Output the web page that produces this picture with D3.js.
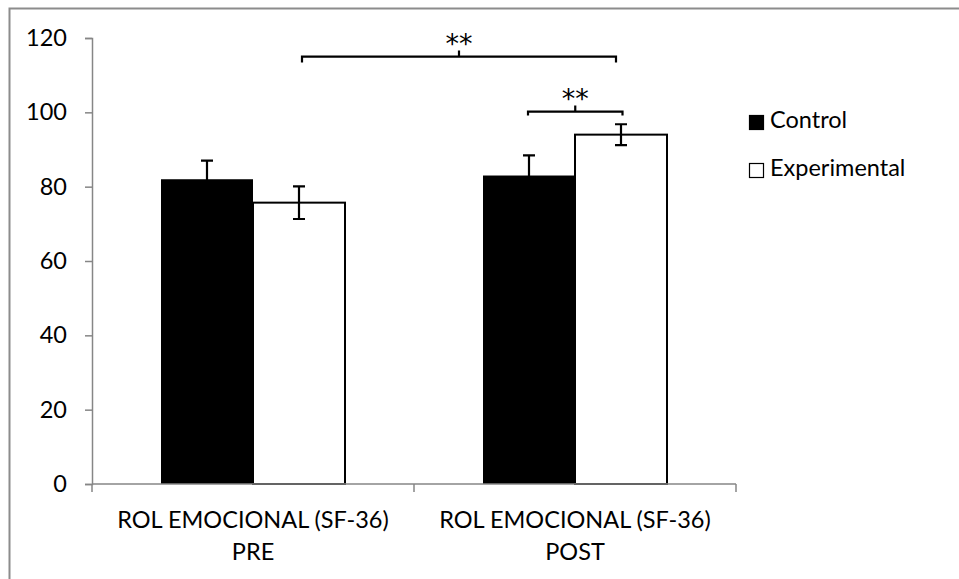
<!DOCTYPE html>
<html>
<head>
<meta charset="utf-8">
<script src="https://cdn.jsdelivr.net/npm/d3@7/dist/d3.min.js"></script>
<style>
  html, body { margin: 0; padding: 0; background: #fff; }
  svg { display: block; font-family: Lato, "Open Sans", sans-serif; }
</style>
</head>
<body>
<svg id="chart" width="959" height="579"></svg>
<script>
// Rol emocional (SF-36): pre/post means with error bars
const categories = [["ROL EMOCIONAL (SF-36)", "PRE"], ["ROL EMOCIONAL (SF-36)", "POST"]];
const groups = ["Control", "Experimental"];
const controlValues = [82, 83];
const experimentalValues = [75.7, 94];
const controlErrors = [5, 5.4];
const experimentalErrors = [4.4, 2.8];
const yTicks = [0, 20, 40, 60, 80, 100, 120];
const significance = [
  { label: "**", from: [0, 1], to: [1, 1], level: 115 },
  { label: "**", from: [1, 0], to: [1, 1], level: 100.2 }
];

const svg = d3.select("#chart");
const margin = { left: 92, right: 223, top: 38, bottom: 95 };
const W = 959, H = 579;
const fontSize = 23.5;

// outer frame (top and left edges visible)
svg.append("path")
  .attr("d", `M9.5,${H} L9.5,8.5 L${W},8.5`)
  .attr("fill", "none").attr("stroke", "#8c8c8c").attr("stroke-width", 2);

const x0 = d3.scaleBand().domain(d3.range(categories.length))
  .range([margin.left, W - margin.right]);
const x1 = d3.scaleBand().domain(groups).range([0, x0.bandwidth()])
  .paddingInner(0).paddingOuter(0.75);
const y = d3.scaleLinear().domain([0, 120]).range([H - margin.bottom, margin.top]);

const tickColor = "#868686";

// y axis
const yAxis = svg.append("g").attr("transform", `translate(${margin.left},0)`)
  .call(d3.axisLeft(y).tickValues(yTicks).tickSize(7).tickPadding(18));
yAxis.select(".domain").attr("stroke", tickColor).attr("stroke-width", 1.5);
yAxis.selectAll(".tick line").attr("stroke", tickColor).attr("stroke-width", 1.5);
yAxis.selectAll(".tick text").attr("font-size", fontSize).attr("fill", "#000")
  .attr("font-family", "Lato, sans-serif");

// bars
const data = categories.map((c, i) => ({
  i,
  values: [
    { g: "Control", v: controlValues[i], e: controlErrors[i] },
    { g: "Experimental", v: experimentalValues[i], e: experimentalErrors[i] }
  ]
}));

const gCat = svg.selectAll(".cat").data(data).join("g")
  .attr("transform", d => `translate(${x0(d.i)},0)`);

gCat.selectAll("rect").data(d => d.values).join("rect")
  .attr("x", d => x1(d.g))
  .attr("y", d => y(d.v))
  .attr("width", x1.bandwidth())
  .attr("height", d => y(0) - y(d.v))
  .attr("fill", d => d.g === "Control" ? "#000" : "#fff")
  .attr("stroke", "#000")
  .attr("stroke-width", d => d.g === "Control" ? 0 : 2);

// error bars
gCat.selectAll(".err").data(d => d.values).join("path")
  .attr("class", "err")
  .attr("d", d => {
    const cx = x1(d.g) + x1.bandwidth() / 2, cw = 6;
    const t = y(d.v + d.e), b = y(d.v - d.e);
    return `M${cx},${t} L${cx},${b} M${cx - cw},${t} L${cx + cw},${t} M${cx - cw},${b} L${cx + cw},${b}`;
  })
  .attr("fill", "none")
  .attr("stroke", "#000")
  .attr("stroke-width", 2.2);

// x axis
const xAxisY = y(0);
svg.append("line").attr("x1", margin.left).attr("x2", W - margin.right)
  .attr("y1", xAxisY).attr("y2", xAxisY)
  .attr("stroke", tickColor).attr("stroke-width", 1.5);
const xTickPos = [margin.left, ...categories.map((c, i) => x0(i) + x0.bandwidth())];
svg.selectAll(".xt").data(xTickPos).join("line")
  .attr("x1", d => d).attr("x2", d => d)
  .attr("y1", xAxisY).attr("y2", xAxisY + 8)
  .attr("stroke", tickColor).attr("stroke-width", 1.5);

// category labels
categories.forEach((lines, i) => {
  const t = svg.append("text")
    .attr("x", x0(i) + x0.bandwidth() / 2)
    .attr("y", xAxisY + 44)
    .attr("text-anchor", "middle")
    .attr("font-size", fontSize).attr("fill", "#000");
  lines.forEach((ln, k) => {
    t.append("tspan").attr("x", x0(i) + x0.bandwidth() / 2)
      .attr("dy", k === 0 ? 0 : 32).text(ln);
  });
});

// significance brackets
const barCenter = ([ci, gi]) => x0(ci) + x1(groups[gi]) + x1.bandwidth() / 2;
significance.forEach((s, k) => {
  const xa = barCenter(s.from) + (k === 0 ? 3 : -1);
  const xb = barCenter(s.to) + (k === 0 ? -5 : 1.5);
  const yl = y(s.level);
  const xm = (xa + xb) / 2;
  const drop = k === 0 ? 6 : 4;
  svg.append("path")
    .attr("d", `M${xa},${yl + drop} L${xa},${yl} L${xb},${yl} L${xb},${yl + drop} M${xm},${yl} L${xm},${yl - 6}`)
    .attr("fill", "none").attr("stroke", "#000").attr("stroke-width", 2.2);
  svg.append("text").attr("x", xm).attr("y", yl - 4)
    .attr("text-anchor", "middle").attr("font-size", 27)
    .attr("font-family", "DejaVu Sans, sans-serif")
    .attr("fill", "#000").text(s.label);
});

// legend
const legend = svg.append("g").attr("transform", "translate(749,115)");
groups.forEach((g, i) => {
  const row = legend.append("g").attr("transform", `translate(0,${i * 48})`);
  row.append("rect").attr("x", 0.5).attr("y", 0.5).attr("width", 14).attr("height", 14)
    .attr("fill", g === "Control" ? "#000" : "#fff")
    .attr("stroke", "#000").attr("stroke-width", 1.2);
  row.append("text").attr("x", 21).attr("y", 12.5)
    .attr("font-size", fontSize).attr("fill", "#000").text(g);
});
</script>
</body>
</html>
